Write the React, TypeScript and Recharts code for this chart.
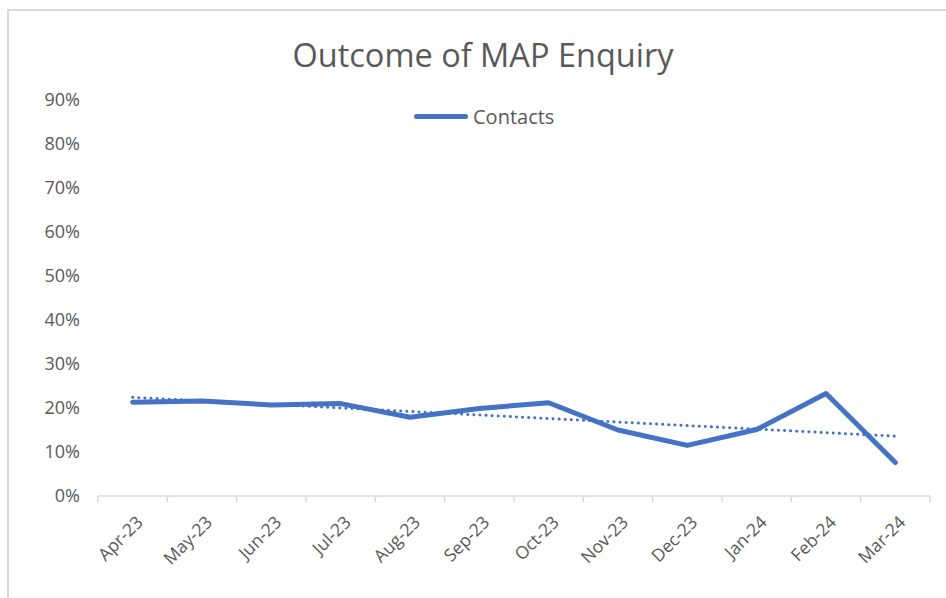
import { Legend, Line, LineChart, XAxis, YAxis } from "recharts";

const months = [
  "Apr-23",
  "May-23",
  "Jun-23",
  "Jul-23",
  "Aug-23",
  "Sep-23",
  "Oct-23",
  "Nov-23",
  "Dec-23",
  "Jan-24",
  "Feb-24",
  "Mar-24",
];

const contacts = [21.3, 21.6, 20.7, 21.0, 17.9, 19.9, 21.2, 15.0, 11.5, 15.1, 23.3, 7.6];

const yTicks = [0, 10, 20, 30, 40, 50, 60, 70, 80, 90];

const lineColor = "#4472C4";
const textColor = "#595959";
const axisColor = "#d9d9d9";
const font = "'Open Sans', 'Noto Sans', sans-serif";
const halfBand = 34.65;

// linear trendline (least squares), like Excel's
function linearTrend(values: number[]) {
  const n = values.length;
  const xMean = (n - 1) / 2;
  const yMean = values.reduce((a, b) => a + b, 0) / n;
  let num = 0;
  let den = 0;
  values.forEach((v, i) => {
    num += (i - xMean) * (v - yMean);
    den += (i - xMean) * (i - xMean);
  });
  const slope = num / den;
  return values.map((_, i) => yMean + slope * (i - xMean));
}

const trend = linearTrend(contacts);

const data = months.map((month, i) => ({
  month,
  contacts: contacts[i],
  trend: trend[i],
}));

function MonthTick(props: any) {
  const { x, y, payload, index } = props;
  return (
    <g>
      <line x1={x - halfBand} y1={y - 8} x2={x - halfBand} y2={y - 2} stroke={axisColor} strokeWidth={1.5} />
      {index === months.length - 1 && (
        <line x1={x + halfBand} y1={y - 8} x2={x + halfBand} y2={y - 2} stroke={axisColor} strokeWidth={1.5} />
      )}
      <text
        transform={`translate(${x + 7},${y + 15}) rotate(-45)`}
        textAnchor="end"
        dy="0.35em"
        fill={textColor}
        fontSize={17.5}
        fontFamily={font}
      >
        {payload.value}
      </text>
    </g>
  );
}

function ContactsLegend() {
  return (
    <div style={{ display: "flex", alignItems: "center", fontFamily: font, color: textColor, fontSize: 20 }}>
      <span
        style={{
          display: "inline-block",
          width: 54,
          height: 5,
          borderRadius: 3,
          background: lineColor,
          marginRight: 5,
        }}
      />
      Contacts
    </div>
  );
}

export default function App() {
  return (
    <div style={{ position: "absolute", left: 0, top: 0, width: 946, height: 598, background: "#fff" }}>
      <div
        style={{
          position: "absolute",
          left: 7,
          top: 9,
          right: -4,
          bottom: -4,
          borderTop: `2px solid ${axisColor}`,
          borderLeft: `2px solid ${axisColor}`,
        }}
      />
      <div
        style={{
          position: "absolute",
          top: 32,
          left: 0,
          width: 966,
          textAlign: "center",
          fontFamily: font,
          fontSize: 32.5,
          color: textColor,
        }}
      >
        Outcome of MAP Enquiry
      </div>
      <div style={{ position: "absolute", left: 0, top: 0 }}>
        <LineChart width={946} height={598} data={data} margin={{ top: 100, right: 16, bottom: 0, left: 0 }}>
          <XAxis
            dataKey="month"
            height={102}
            stroke={axisColor}
            strokeWidth={1.5}
            tickLine={false}
            tick={<MonthTick />}
            interval={0}
            tickSize={0}
            tickMargin={8}
            padding={{ left: halfBand, right: halfBand }}
          />
          <YAxis
            domain={[0, 90]}
            ticks={yTicks}
            width={98}
            axisLine={false}
            tickLine={false}
            tickSize={0}
            tickMargin={18}
            tickFormatter={(v) => `${v}%`}
            tick={{ fill: textColor, fontSize: 18, fontFamily: font }}
          />
          <Legend
            verticalAlign="middle"
            layout="horizontal"
            content={<ContactsLegend />}
            wrapperStyle={{ position: "absolute", top: 103, left: 414, width: 200 }}
          />
          <Line
            dataKey="trend"
            stroke={lineColor}
            strokeWidth={3}
            strokeDasharray="0.1 6"
            strokeLinecap="round"
            dot={false}
            activeDot={false}
            isAnimationActive={false}
            legendType="none"
          />
          <Line
            dataKey="contacts"
            stroke={lineColor}
            strokeWidth={5}
            strokeLinejoin="round"
            strokeLinecap="round"
            dot={false}
            activeDot={false}
            isAnimationActive={false}
          />
        </LineChart>
      </div>
    </div>
  );
}
